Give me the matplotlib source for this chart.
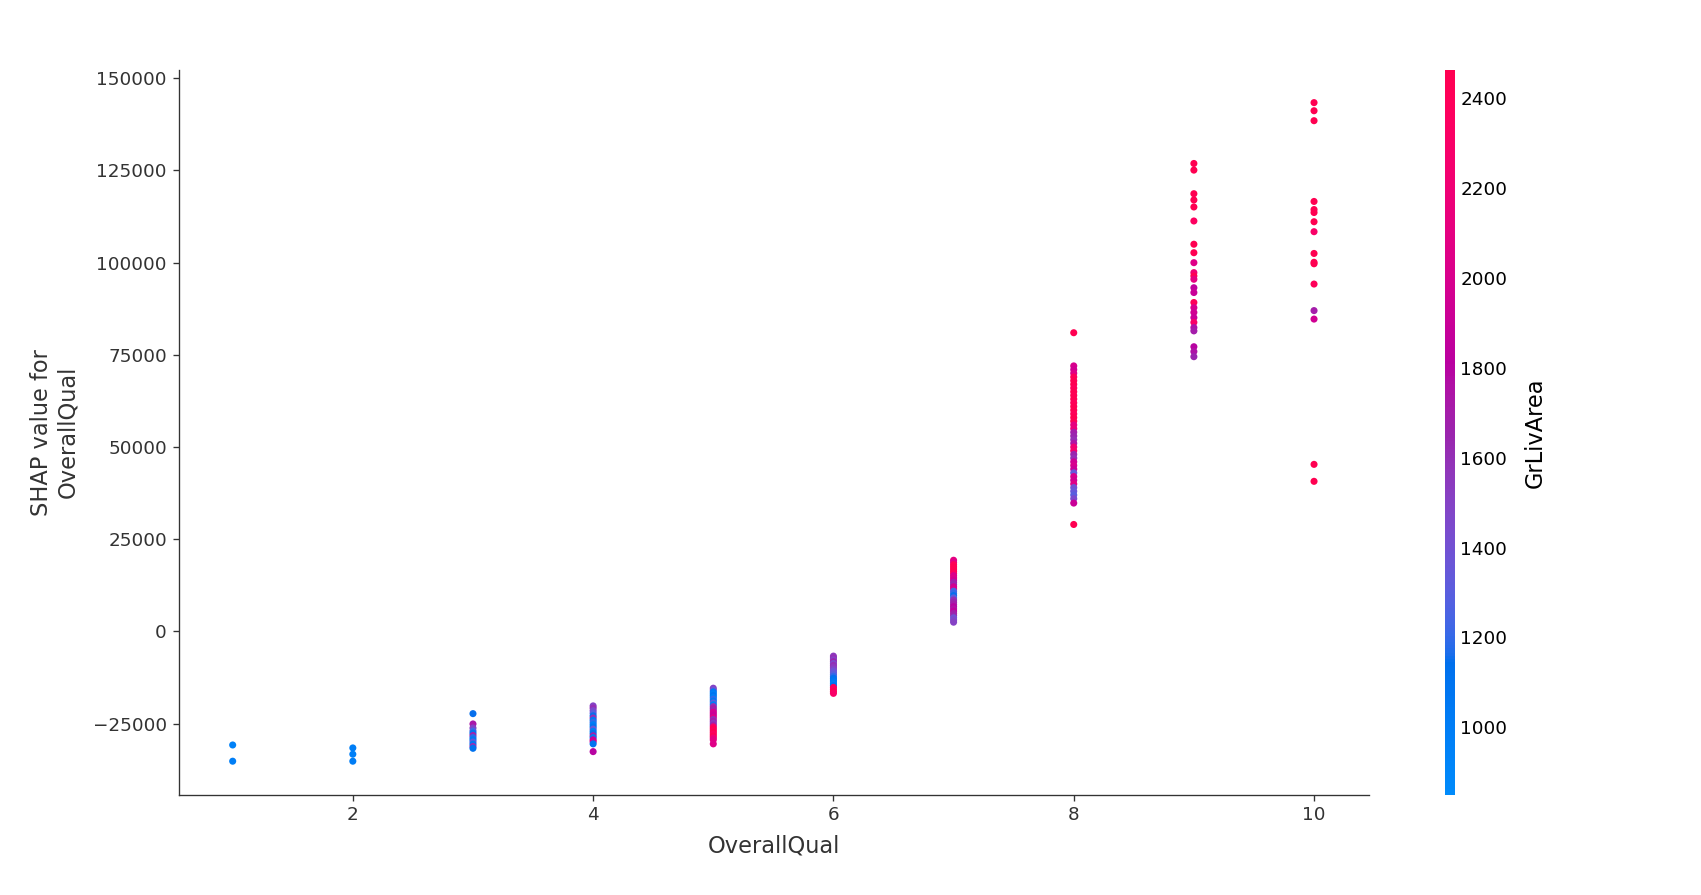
import matplotlib
matplotlib.use("Agg")
import matplotlib.pyplot as plt
import numpy as np
from matplotlib.colors import LinearSegmentedColormap

# SHAP values for OverallQual, with GrLivArea for colouring, one list pair per quality level
q1_shap = [-30800, -35200]
q1_area = [960, 990]

q2_shap = [-31600, -33300, -35200]
q2_area = [1000, 980, 1010]

q3_shap = [-22300, -25100, -26200, -27000, -27600, -28200, -28800, -29400, -30000, -30600, -31200, -31700]
q3_area = [1150, 1720, 1500, 1250, 1080, 1650, 1180, 1050, 1300, 1060, 1600, 1120]

q4_shap = [-20200, -20800, -21500, -22200, -22900, -23500, -24100, -24700, -25300, -25900, -26500,
           -27100, -27700, -28300, -28800, -29400, -29900, -30500, -32600]
q4_area = [1500, 1600, 1450, 1300, 1150, 1600, 1050, 1200, 1000, 1100, 1350, 1000, 1150,
           1700, 1050, 1900, 1950, 1100, 1800]

q5_shap = [-15400, -15900, -16400, -16900, -17400, -17900, -18400, -18900, -19400, -19900, -20400,
           -20900, -21400, -21900, -22400, -22900, -23400, -23900, -24400, -24900, -25400, -25900,
           -26400, -26900, -27400, -27900, -28400, -28900, -29400, -30500]
q5_area = [1500, 1400, 1050, 1000, 1100, 1000, 1200, 1050, 1300, 1000, 1600, 1700, 1650, 2000,
           1950, 1900, 2050, 1600, 1700, 1550, 1650, 2300, 2450, 2400, 2500, 2350, 2450, 2200,
           2100, 2050]

q6_shap = [-6700, -7200, -7700, -8200, -8700, -9200, -9700, -10200, -10700, -11200, -11700, -12200,
           -12700, -13200, -13700, -14200, -14700, -15200, -15700, -16300, -16800]
q6_area = [1550, 1600, 1500, 1650, 1450, 1600, 1550, 1500, 1400, 1350, 1300, 1200, 1150, 1100,
           1050, 1000, 1100, 2400, 2350, 2500, 2300]

q7_shap = [19300, 18700, 18100, 17500, 16900, 16300, 15700, 15100, 14500, 13900, 13300, 12700, 12100,
           11500, 10900, 10300, 9700, 9100, 8500, 7900, 7300, 6700, 6100, 5500, 4900, 4300, 3700,
           3100, 2500]
q7_area = [2100, 2050, 2400, 2500, 2450, 2550, 2350, 2000, 2050, 1950, 1700, 1650, 1950, 2000,
           1250, 1200, 1150, 1300, 1600, 1650, 1700, 1800, 1750, 1850, 1700, 1650, 1400, 1450,
           1500]

q8_shap = [81000, 72000, 71000, 70000, 69000, 68000, 67000, 66000, 65000, 64000, 63000, 62000,
           61000, 60000, 59000, 58000, 57000, 56000, 55000, 54000, 53000, 52000, 51000, 50000,
           49000, 48000, 47000, 46000, 45000, 44000, 43000, 42000, 41000, 40000, 39000, 38000,
           37000, 36000, 34800, 29000]
q8_area = [2500, 2000, 1950, 2050, 2400, 2450, 2500, 2400, 2550, 2450, 2500, 2400, 2450, 2600,
           2400, 2500, 2450, 2100, 2150, 1700, 1650, 1600, 1750, 2200, 2250, 1650, 1600, 1950,
           2000, 1900, 1350, 2000, 1950, 2050, 1400, 1350, 1300, 1450, 1900, 2500]

q9_shap = [126900, 125100, 118700, 117000, 115100, 111300, 105000, 102700, 100000, 97300, 96400,
           95500, 93200, 91900, 89200, 87800, 86500, 85100, 83800, 82400, 81500, 77200, 75900, 74500]
q9_area = [2600, 2550, 2500, 2600, 2480, 2350, 2500, 2470, 2050, 2200, 2450, 2100, 1850, 1900,
           2400, 2000, 1950, 1900, 2300, 1750, 1700, 1800, 1750, 1650]

q10_shap = [143400, 141200, 138500, 116600, 114400, 113600, 111100, 108400, 102500, 100100, 99700,
            94200, 87000, 84700, 45300, 40700]
q10_area = [2700, 2650, 2600, 2500, 2480, 2550, 2600, 2300, 2500, 2450, 2550, 2400, 1700, 1950,
            2500, 2600]

shap_cols = [q1_shap, q2_shap, q3_shap, q4_shap, q5_shap, q6_shap, q7_shap, q8_shap, q9_shap, q10_shap]
area_cols = [q1_area, q2_area, q3_area, q4_area, q5_area, q6_area, q7_area, q8_area, q9_area, q10_area]

overall_qual = np.concatenate([[q] * len(s) for q, s in zip(range(1, 11), shap_cols)])
shap_vals = np.concatenate(shap_cols)
gr_liv_area = np.concatenate(area_cols)

color_min, color_max = 850, 2463


def lch2rgb(l, c, h):
    # Lch -> Lab -> XYZ (D65) -> sRGB
    a, b = c * np.cos(h), c * np.sin(h)
    fy = (l + 16) / 116
    fx = fy + a / 500
    fz = fy - b / 200

    def finv(t):
        return np.where(t ** 3 > 0.008856, t ** 3, (t - 16 / 116) / 7.787)

    xyz = np.stack([0.95047 * finv(fx), finv(fy), 1.08883 * finv(fz)])
    m = np.array([[3.2406, -1.5372, -0.4986],
                  [-0.9689, 1.8758, 0.0415],
                  [0.0557, -0.2040, 1.0570]])
    rgb = np.clip(m @ xyz, 0, None)
    rgb = np.where(rgb > 0.0031308, 1.055 * rgb ** (1 / 2.4) - 0.055, 12.92 * rgb)
    return np.clip(rgb, 0, 1).T


# shap's red_blue colour scale
nsteps = 100
l_vals = np.concatenate([np.linspace(54, 40, nsteps // 2), np.linspace(40, 54, nsteps // 2)])
c_vals = np.linspace(70, 90, nsteps)
h_vals = np.linspace(4.6588, 0.35470565 + 2 * np.pi, nsteps)
red_blue = LinearSegmentedColormap.from_list("red_blue", lch2rgb(l_vals, c_vals, h_vals))

axis_color = "#333333"
dpi = 120

fig = plt.figure(figsize=(1701 / dpi, 895 / dpi), dpi=dpi)
ax = fig.add_axes([0.105, 0.112, 0.700, 0.810])
cax = fig.add_axes([0.8495, 0.112, 0.0056, 0.810])

p = ax.scatter(overall_qual, shap_vals, c=gr_liv_area, s=18, cmap=red_blue,
               vmin=color_min, vmax=color_max, linewidth=0, alpha=1)

ax.set_xlim(0.55, 10.46)
ax.set_ylim(-44300, 152300)
ax.set_xticks([2, 4, 6, 8, 10])

ax.spines["right"].set_visible(False)
ax.spines["top"].set_visible(False)
for side in ["left", "bottom"]:
    ax.spines[side].set_color(axis_color)
ax.tick_params(color=axis_color, labelcolor=axis_color, labelsize=11)
ax.set_xlabel("OverallQual", color=axis_color, fontsize=13.5, labelpad=6)
ax.set_ylabel("SHAP value for\nOverallQual", color=axis_color, fontsize=13.5, labelpad=8)

cb = fig.colorbar(p, cax=cax, ticks=np.arange(1000, 2401, 200))
cb.set_label("GrLivArea", size=13.5, labelpad=10)
cb.ax.tick_params(labelsize=11, length=0)
cb.outline.set_visible(False)

plt.savefig("out.png", dpi=dpi)
